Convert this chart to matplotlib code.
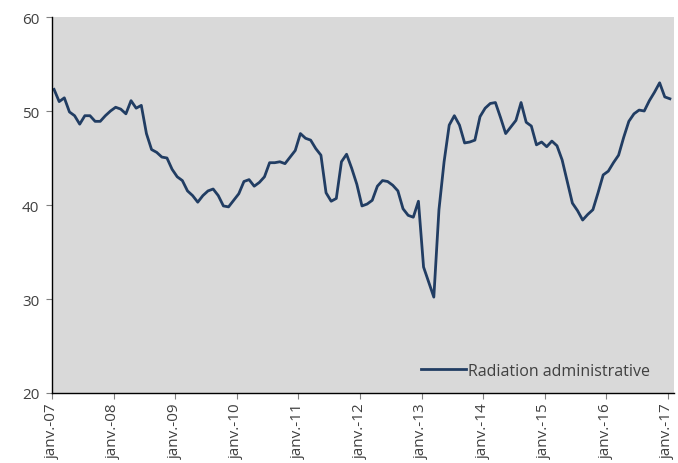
# -*- coding: utf-8 -*-
import matplotlib
matplotlib.use("Agg", force=True)
import matplotlib.pyplot as plt
import numpy as np

SERIES_LABEL = "Radiation administrative"
YEAR_LABELS = ["janv.-07", "janv.-08", "janv.-09", "janv.-10", "janv.-11", "janv.-12",
               "janv.-13", "janv.-14", "janv.-15", "janv.-16", "janv.-17"]

# monthly values, janv. 2007 -> janv. 2017
values_2007 = [52.3, 51.0, 51.4, 49.9, 49.5, 48.6, 49.5, 49.5, 48.9, 48.9, 49.5, 50.0]
values_2008 = [50.4, 50.2, 49.7, 51.1, 50.3, 50.6, 47.6, 45.9, 45.6, 45.1, 45.0, 43.8]
values_2009 = [43.0, 42.6, 41.5, 41.0, 40.3, 41.0, 41.5, 41.7, 41.0, 39.9, 39.8, 40.5]
values_2010 = [41.2, 42.5, 42.7, 42.0, 42.4, 43.0, 44.5, 44.5, 44.6, 44.4, 45.1, 45.8]
values_2011 = [47.6, 47.1, 46.9, 46.0, 45.3, 41.3, 40.4, 40.7, 44.6, 45.4, 43.9, 42.2]
values_2012 = [39.9, 40.1, 40.5, 42.0, 42.6, 42.5, 42.1, 41.5, 39.6, 38.9, 38.7, 40.4]
values_2013 = [33.4, 31.8, 30.2, 39.5, 44.6, 48.5, 49.5, 48.5, 46.6, 46.7, 46.9, 49.4]
values_2014 = [50.3, 50.8, 50.9, 49.3, 47.6, 48.3, 49.0, 50.9, 48.8, 48.4, 46.4, 46.7]
values_2015 = [46.2, 46.8, 46.3, 44.8, 42.5, 40.2, 39.4, 38.4, 39.0, 39.5, 41.3, 43.2]
values_2016 = [43.6, 44.5, 45.3, 47.2, 48.9, 49.7, 50.1, 50.0, 51.1, 52.0, 53.0, 51.5]
values_2017 = [51.3]

LINE_COLOR = "#213d63"
TEXT_COLOR = "#404040"


def main():
    values = (values_2007 + values_2008 + values_2009 + values_2010 + values_2011
              + values_2012 + values_2013 + values_2014 + values_2015 + values_2016
              + values_2017)
    # points sit a little after the 1st of the month, like the source date axis
    months = np.arange(len(values)) + 0.4

    plt.rcParams["font.family"] = ["Open Sans", "DejaVu Sans"]
    fig = plt.figure(figsize=(6.78, 4.64), dpi=100)
    ax = fig.add_axes([52 / 678, 70 / 464, 622 / 678, 376 / 464])
    ax.set_facecolor("#d9d9d9")

    ax.plot(months, values, color=LINE_COLOR, linewidth=2.0, label=SERIES_LABEL)

    ax.set_xlim(0, 121.2)
    ax.set_ylim(20, 60)
    ax.set_yticks([20, 30, 40, 50, 60])
    ax.set_xticks(np.arange(0, 121, 12))
    ax.set_xticklabels(YEAR_LABELS, rotation=90)

    for side in ["top", "right"]:
        ax.spines[side].set_visible(False)
    for side in ["left", "bottom"]:
        ax.spines[side].set_color("black")
        ax.spines[side].set_linewidth(1.0)

    ax.tick_params(axis="both", colors="#808080", labelcolor=TEXT_COLOR,
                   labelsize=11, length=4, width=0.8)
    ax.tick_params(axis="y", pad=5)
    ax.tick_params(axis="x", pad=3)

    leg = ax.legend(loc="lower right", bbox_to_anchor=(0.985, 0.0), frameon=False,
                    fontsize=11.5, handlelength=2.8, handletextpad=0.15)
    for txt in leg.get_texts():
        txt.set_color(TEXT_COLOR)

    fig.savefig("out.png", dpi=100)
    plt.close(fig)


if __name__ == "__main__":
    main()
